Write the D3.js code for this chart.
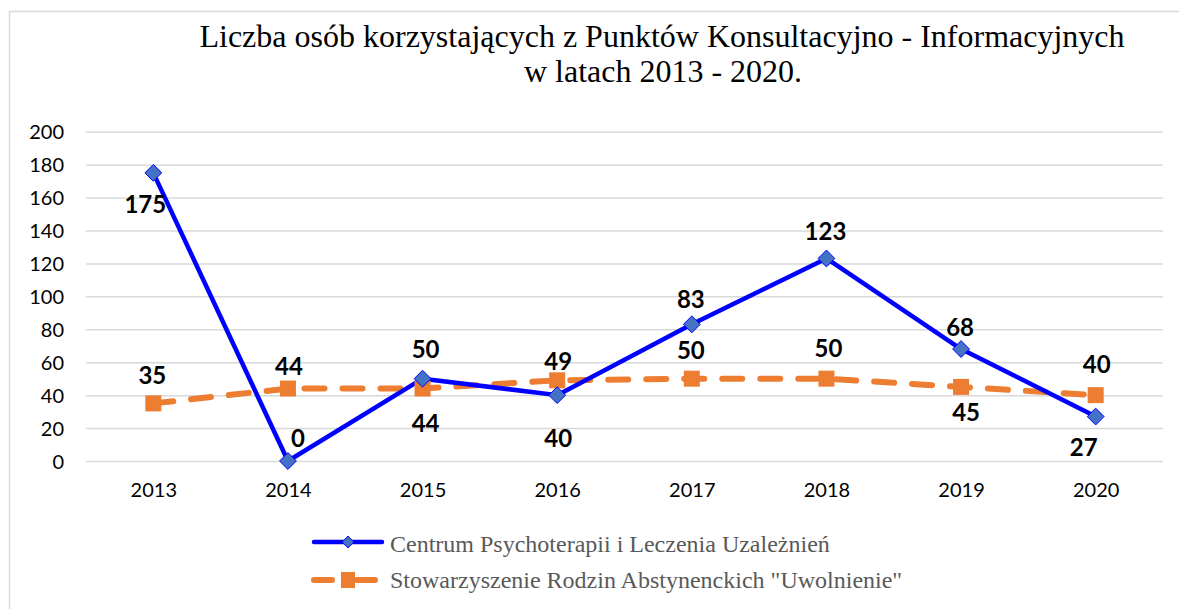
<!DOCTYPE html>
<meta charset="utf-8">
<style>
  body { margin: 0; background: #fff; }
  svg { display: block; }
  .tick text { font-family: Lato, "Open Sans", sans-serif; font-size: 20px; fill: #000; }
  .grid line { stroke: #d9d9d9; stroke-width: 1.5px; }
  .lbl { font-family: Lato, "Open Sans", sans-serif; font-weight: bold; font-size: 24px; fill: #000; text-anchor: middle; }
  .title { font-family: "Liberation Serif", "Times New Roman", serif; font-size: 32px; fill: #000; text-anchor: middle; }
  .legend text { font-family: "Liberation Serif", "Times New Roman", serif; font-size: 24px; fill: #595959; }
</style>
<body>
<div id="chart"></div>
<script src="https://d3js.org/d3.v7.min.js"></script>
<script>
  var years = ["2013", "2014", "2015", "2016", "2017", "2018", "2019", "2020"];
  var centrum = [175, 0, 50, 40, 83, 123, 68, 27];
  var stowarzyszenie = [35, 44, 44, 49, 50, 50, 45, 40];
  var yTicks = [0, 20, 40, 60, 80, 100, 120, 140, 160, 180, 200];

  var seriesNames = ["Centrum Psychoterapii i Leczenia Uzależnień",
                     "Stowarzyszenie Rodzin Abstynenckich \"Uwolnienie\""];
  var titleLines = ["Liczba osób korzystających z Punktów Konsultacyjno - Informacyjnych",
                    "w latach 2013 - 2020."];

  // where each data label sits relative to its marker (dx, dy of baseline)
  var centrumLabelOff = [[-8, 40], [10, -14], [3, -21], [1, 52], [-1, -16], [-1, -18], [-1, -13], [-12, 39]];
  var stowLabelOff = [[-1, -19], [1, -14], [3, 43], [1, -10], [-1, -20], [2, -22], [5, 34], [1, -22]];

  var w = 1179, h = 609;
  var svg = d3.select("#chart").append("svg")
    .attr("width", w).attr("height", h);

  // outer frame (runs off right/bottom edge)
  svg.append("rect")
    .attr("x", 9.5).attr("y", 11.5)
    .attr("width", 1200).attr("height", 700)
    .attr("fill", "none").attr("stroke", "#d9d9d9").attr("stroke-width", 1.5);

  var x = d3.scalePoint().domain(years).range([86, 1163]).padding(0.5);
  var y = d3.scaleLinear().domain([0, 200]).range([461, 131.7]);

  // gridlines
  svg.append("g")
    .attr("class", "grid")
    .attr("transform", "translate(86,0)")
    .call(d3.axisLeft(y).tickValues(yTicks).tickSize(-(1163 - 86)).tickFormat(""))
    .call(function (g) { g.select(".domain").remove(); });

  // y axis labels
  svg.append("g")
    .attr("transform", "translate(64,0)")
    .call(d3.axisLeft(y).tickValues(yTicks).tickSize(0).tickPadding(0))
    .call(function (g) { g.select(".domain").remove(); })
    .selectAll("text").attr("dy", "0.36em");

  // x axis labels
  svg.append("g")
    .attr("transform", "translate(0,478)")
    .call(d3.axisBottom(x).tickSize(0).tickPadding(0))
    .call(function (g) { g.select(".domain").remove(); })
    .selectAll("text").attr("dy", "0.95em");

  // title
  svg.append("text").attr("class", "title")
    .attr("x", 662).attr("y", 47).text(titleLines[0]);
  svg.append("text").attr("class", "title")
    .attr("x", 663).attr("y", 82).text(titleLines[1]);

  var line = d3.line()
    .x(function (d, i) { return x(years[i]); })
    .y(function (d) { return y(d); });

  // orange series
  svg.append("path")
    .datum(stowarzyszenie)
    .attr("d", line)
    .attr("fill", "none")
    .attr("stroke", "#ED7D31")
    .attr("stroke-width", 6)
    .attr("stroke-linecap", "round")
    .attr("stroke-dasharray", "20,18");

  // blue series
  svg.append("path")
    .datum(centrum)
    .attr("d", line)
    .attr("fill", "none")
    .attr("stroke", "#0000FF")
    .attr("stroke-width", 4.5)
    .attr("stroke-linejoin", "round");

  svg.append("g").selectAll("rect")
    .data(stowarzyszenie)
    .enter().append("rect")
    .attr("x", function (d, i) { return x(years[i]) - 8; })
    .attr("y", function (d) { return y(d) - 8; })
    .attr("width", 16).attr("height", 16)
    .attr("fill", "#ED7D31");

  var diamond = d3.symbol().type(d3.symbolDiamond2).size(180);
  svg.append("g").selectAll("path")
    .data(centrum)
    .enter().append("path")
    .attr("d", diamond)
    .attr("transform", function (d, i) {
      return "translate(" + x(years[i]) + "," + y(d) + ")";
    })
    .attr("fill", "#4472C4")
    .attr("stroke", "#0000FF")
    .attr("stroke-width", 1);

  // data labels
  svg.append("g").selectAll("text")
    .data(centrum)
    .enter().append("text")
    .attr("class", "lbl")
    .attr("x", function (d, i) { return x(years[i]) + centrumLabelOff[i][0]; })
    .attr("y", function (d, i) { return y(d) + centrumLabelOff[i][1]; })
    .text(function (d) { return d; });

  svg.append("g").selectAll("text")
    .data(stowarzyszenie)
    .enter().append("text")
    .attr("class", "lbl")
    .attr("x", function (d, i) { return x(years[i]) + stowLabelOff[i][0]; })
    .attr("y", function (d, i) { return y(d) + stowLabelOff[i][1]; })
    .text(function (d) { return d; });

  // legend
  var legend = svg.append("g").attr("class", "legend");
  var l1 = legend.append("g").attr("transform", "translate(0,542)");
  l1.append("line").attr("x1", 314).attr("x2", 382)
    .attr("stroke", "#0000FF").attr("stroke-width", 4.5).attr("stroke-linecap", "round");
  l1.append("path").attr("d", d3.symbol().type(d3.symbolDiamond2).size(90))
    .attr("transform", "translate(348,0)")
    .attr("fill", "#4472C4").attr("stroke", "#0000FF").attr("stroke-width", 1);
  l1.append("text").attr("x", 390).attr("y", 10).text(seriesNames[0]);

  var l2 = legend.append("g").attr("transform", "translate(0,580)");
  l2.append("line").attr("x1", 314).attr("x2", 378)
    .attr("stroke", "#ED7D31").attr("stroke-width", 6).attr("stroke-linecap", "round")
    .attr("stroke-dasharray", "18,25");
  l2.append("rect").attr("x", 341).attr("y", -8).attr("width", 14).attr("height", 16)
    .attr("fill", "#ED7D31");
  l2.append("text").attr("x", 390).attr("y", 8).text(seriesNames[1]);
</script>
</body>
